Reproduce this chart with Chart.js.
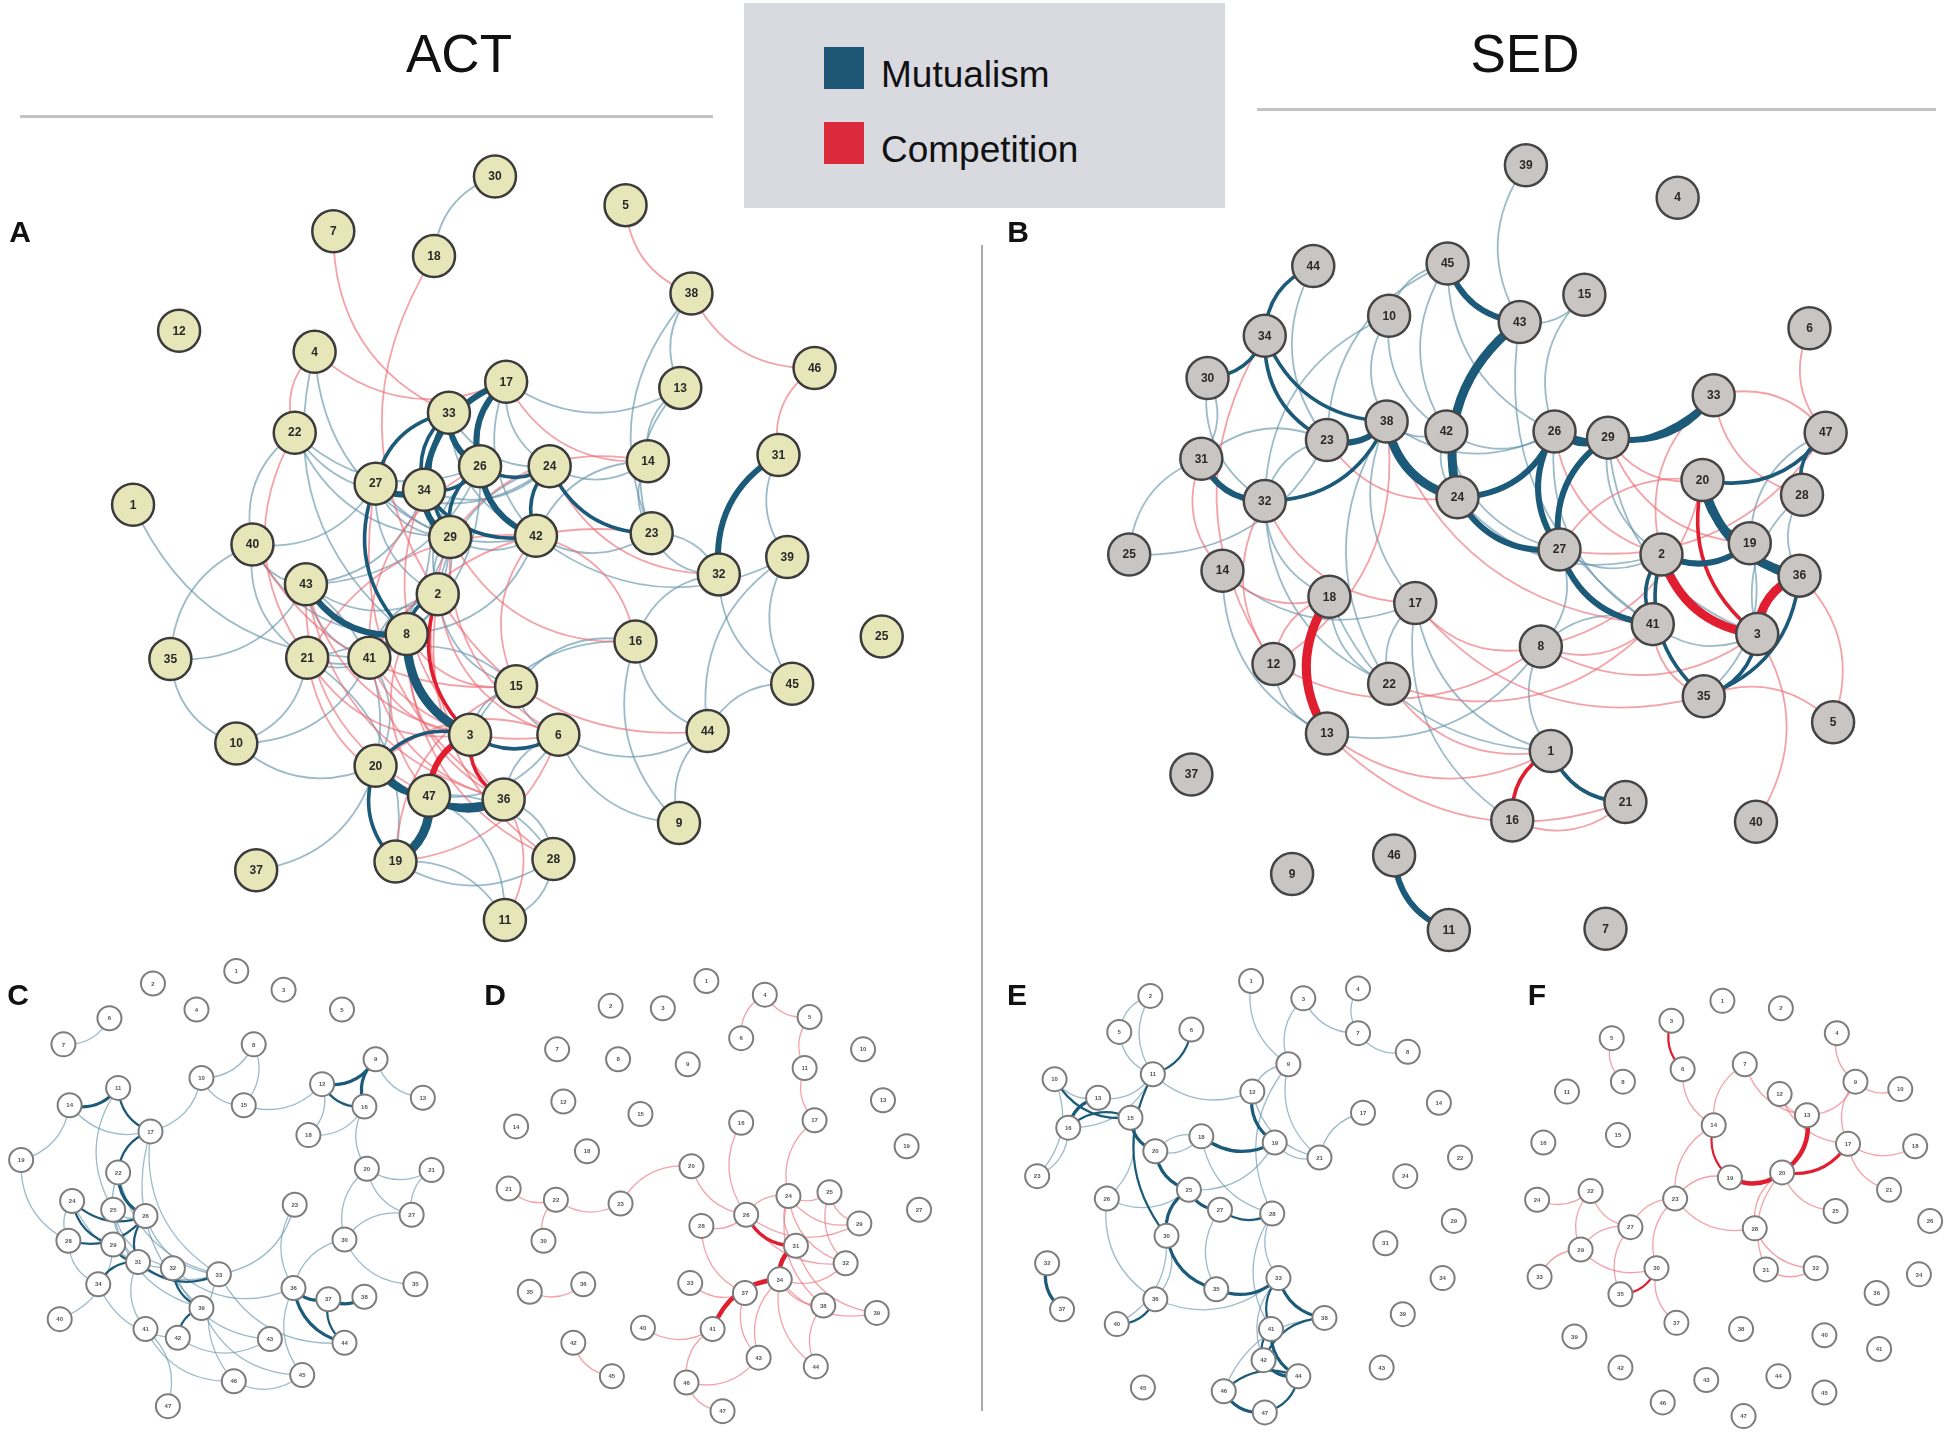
<!DOCTYPE html>
<html>
<head>
<meta charset="utf-8">
<script src="https://cdn.jsdelivr.net/npm/chart.js@4.4.1/dist/chart.umd.min.js"></script>
<style>
  body { margin: 0; background: #fff; font-family: "Liberation Sans", Arial, sans-serif; }
  #wrap { position: absolute; left: 0; top: 0; width: 1950px; height: 1436px; }
  .t { position: absolute; color: #111; white-space: nowrap; }
  .c { transform: translate(-50%, -50%); }
  .bar { position: absolute; background: #c3c3c3; }
</style>
</head>
<body>
<div id="wrap">
  <canvas id="net"></canvas>
</div>

<div class="bar" style="left:20px;top:115px;width:693px;height:3px"></div>
<div class="bar" style="left:1257px;top:108px;width:679px;height:3px"></div>
<div class="bar" style="left:981px;top:245px;width:2px;height:1166px;background:#a8a8a8"></div>
<div class="t c" style="left:459px;top:53px;font-size:53px">ACT</div>
<div class="t c" style="left:1525px;top:53px;font-size:53px">SED</div>

<div style="position:absolute;left:744px;top:3px;width:481px;height:205px;background:#d9dae0"></div>
<div style="position:absolute;left:824px;top:47px;width:40px;height:42px;background:#1d5675"></div>
<div style="position:absolute;left:824px;top:122px;width:40px;height:42px;background:#dc2a3d"></div>
<div class="t" style="left:881px;top:54px;font-size:37px">Mutualism</div>
<div class="t" style="left:881px;top:129px;font-size:37px">Competition</div>

<div class="t c" style="left:20px;top:232px;font-size:30px;font-weight:bold">A</div>
<div class="t c" style="left:1018px;top:232px;font-size:30px;font-weight:bold">B</div>
<div class="t c" style="left:18px;top:995px;font-size:30px;font-weight:bold">C</div>
<div class="t c" style="left:495px;top:995px;font-size:30px;font-weight:bold">D</div>
<div class="t c" style="left:1017px;top:995px;font-size:30px;font-weight:bold">E</div>
<div class="t c" style="left:1537px;top:995px;font-size:30px;font-weight:bold">F</div>

<script>
// ACT network (panel A): [species, x, y]
const actNodes = [
  [30,398,142],[5,503,165],[7,268,186],[18,349,206],[38,556,236],[12,144,266],[4,253,283],
  [46,655,296],[17,407,307],[13,547,312],[33,361,332],[22,237,348],[26,386,375],[24,442,375],
  [27,302,389],[34,341,394],[14,521,371],[31,626,366],[1,107,406],[29,362,432],[42,431,431],
  [23,524,429],[40,203,438],[39,633,448],[32,578,462],[43,246,470],[2,352,478],[8,327,510],
  [25,709,512],[35,137,530],[21,247,529],[41,297,529],[16,511,516],[15,415,552],[45,637,550],
  [3,378,591],[6,449,591],[44,569,588],[10,190,598],[20,302,616],[47,345,640],[36,405,643],
  [9,546,662],[19,318,693],[28,445,691],[37,206,700],[11,406,740]
];
// [from, to, strength]
const actMutualism = [
  [30,18,1],[1,41,1],[40,43,1],[40,21,1],[40,35,1],[40,8,1],[35,43,1],[35,10,1],[10,21,1],
  [10,20,1],[10,41,1],[37,20,1],[22,34,1],[22,29,1],[22,40,1],[22,26,1],[4,29,1],[4,8,1],
  [17,13,1],[38,13,1],[38,23,1],[13,23,1],[13,14,1],[14,23,1],[14,42,1],[31,39,1],[39,45,1],
  [39,44,1],[32,45,1],[32,23,1],[32,16,1],[16,9,1],[16,15,1],[16,44,1],[44,9,1],[45,44,1],
  [6,44,1],[6,9,1],[15,41,1],[15,6,1],[28,36,1],[28,47,1],[11,47,1],[11,19,1],[11,28,1],
  [21,41,1],[43,41,1],[33,24,1],[27,42,1],[27,24,1],[29,42,1],[29,2,1],[2,34,1],[27,29,1],
  [17,24,1],[43,26,1],[43,34,1],[40,27,1],[21,29,1],[41,34,1],[41,26,1],[8,29,1],[8,42,1],
  [3,47,1],[6,36,1],[15,3,1],[16,3,1],[42,23,1],[24,14,1],[2,15,1],[42,39,1],[23,32,1],
  [2,41,1],[20,41,1],[19,28,1],[47,6,1],[20,43,1],[19,21,1],[17,42,1],[33,42,1],[26,2,1],
  [24,2,1],[27,2,1],[34,24,1],[21,8,1],[43,2,1],
  [31,32,3],[17,26,3],[17,34,3],[33,26,3],[33,29,2],[26,42,3],[26,24,2],[27,34,3],[27,8,2],
  [34,29,3],[43,8,3],[8,3,4],[2,8,2],[3,6,2],[20,36,3],[47,36,3],[19,47,4],[20,19,2],
  [20,47,2],[24,23,2],[24,42,2],[34,26,2],[34,42,2],[33,27,2],[26,29,2],[33,34,2],[3,20,2]
];
const actCompetition = [
  [7,33,1],[18,2,1],[5,38,1],[38,46,1],[46,31,1],[4,17,1],[4,22,1],[22,21,1],[17,14,1],
  [24,32,1],[8,28,1],[41,36,1],[21,3,1],[43,36,1],[6,20,1],[15,19,1],[2,28,1],[29,6,1],
  [42,15,1],[11,36,1],[16,42,1],[23,41,1],[29,16,1],[34,3,1],[21,47,1],[43,3,1],[27,36,1],
  [41,6,1],[8,36,1],[2,44,1],[26,41,1],[42,21,1],[40,15,1],[14,29,1],[19,6,1],[8,47,1],
  [41,3,1],[43,47,1],[2,6,1],[29,36,1],[8,15,1],
  [2,3,2],[3,47,3],[3,36,2]
];

// SED network (panel B)
const sedNodes = [
  [39,1227,133],[4,1349,159],[44,1056,214],[45,1164,212],[15,1274,237],[10,1117,254],
  [43,1222,259],[6,1455,264],[34,1017,270],[30,971,304],[33,1378,318],[38,1115,339],
  [42,1163,347],[26,1250,347],[29,1293,352],[23,1067,354],[47,1468,348],[31,966,369],
  [20,1369,386],[24,1172,400],[32,1017,403],[28,1449,398],[19,1407,437],[25,908,446],
  [27,1254,442],[2,1336,446],[36,1447,463],[14,983,459],[18,1069,480],[17,1138,485],
  [41,1329,502],[3,1413,510],[8,1239,520],[12,1024,534],[22,1117,550],[35,1370,560],
  [13,1067,590],[5,1474,581],[1,1247,604],[37,958,623],[21,1307,645],[16,1216,660],
  [40,1412,661],[46,1121,688],[9,1039,703],[11,1165,748],[7,1291,747]
];
const sedMutualism = [
  [39,43,1],[45,10,1],[45,23,1],[45,26,1],[45,42,1],[10,38,1],[10,42,1],[10,32,1],[43,15,1],
  [15,26,1],[43,41,1],[42,24,1],[42,26,1],[38,17,1],[38,22,1],[38,26,1],[23,32,1],[31,30,1],
  [31,25,1],[25,23,1],[14,17,1],[14,13,1],[32,18,1],[32,22,1],[17,22,1],[17,16,1],[18,1,1],
  [8,27,1],[8,1,1],[29,2,1],[29,3,1],[47,19,1],[28,3,1],[44,23,1],[30,32,1],[24,2,1],
  [26,41,1],[42,27,1],[12,13,1],[18,22,1],[13,8,1],[41,8,1],[35,19,1],[28,36,1],[41,3,1],
  [23,31,1],[38,42,1],[27,2,1],[17,1,1],
  [44,34,2],[34,38,2],[34,23,2],[30,34,2],[31,32,3],[32,38,2],[23,38,3],[38,24,4],[45,43,3],
  [43,24,4],[24,26,3],[24,27,3],[26,29,3],[26,27,3],[29,27,3],[29,33,3],[26,33,2],[27,41,3],
  [2,19,3],[2,41,2],[2,35,2],[20,19,3],[20,36,4],[20,47,2],[19,36,3],[47,28,2],[35,36,2],
  [35,3,2],[1,21,2],[46,11,3]
];
const sedCompetition = [
  [6,47,1],[47,33,1],[33,28,1],[33,2,1],[5,36,1],[40,3,1],[5,35,1],[8,41,1],[8,20,1],
  [12,8,1],[17,8,1],[22,1,1],[32,12,1],[34,12,1],[31,14,1],[23,24,1],[38,41,1],[29,20,1],
  [26,2,1],[27,47,1],[18,12,1],[13,1,1],[22,41,1],[16,21,1],[14,18,1],[17,35,1],[32,17,1],
  [20,27,1],[29,19,1],[12,38,1],[13,21,1],[8,3,1],[41,35,1],
  [18,13,4],[2,3,4],[36,3,4],[20,3,2],[1,16,2]
];

// Panels C-F: small layouts, nodes [x, y], edges by node index
const cNodes = [
  [190,781],[123,791],[228,796],[158,812],[275,812],[88,819],[51,840],[204,840],[302,852],
  [162,867],[95,875],[259,872],[340,883],[56,889],[196,889],[293,890],[121,910],[248,913],
  [17,933],[295,940],[347,941],[95,943],[237,969],[58,966],[91,973],[117,978],[331,977],
  [55,998],[91,1001],[277,997],[111,1015],[139,1020],[176,1025],[79,1033],[334,1033],
  [236,1036],[264,1045],[293,1043],[162,1052],[48,1061],[117,1069],[143,1076],[217,1077],
  [277,1080],[243,1106],[188,1111],[135,1131]
];
const cEdges = [
  [6,5,1],[13,16,1],[18,13,1],[18,27,1],[16,9,1],[9,7,1],[9,14,1],[14,7,1],[14,11,1],
  [8,12,1],[17,15,1],[17,11,1],[15,19,1],[19,20,1],[19,26,1],[20,26,1],[19,29,1],[26,29,1],
  [22,35,1],[29,35,1],[29,34,1],[35,44,1],[39,28,1],[41,42,1],[45,44,1],[40,45,1],[46,40,1],
  [32,22,1],[32,43,1],[38,44,1],[24,31,1],[23,31,1],[10,24,1],[21,30,1],[24,38,1],[27,33,1],
  [33,41,1],[28,32,1],[16,32,1],[25,32,1],[30,40,1],[31,42,1],[24,25,1],[23,27,1],[21,32,1],
  [31,35,1],[16,38,1],[32,45,1],
  [13,10,3],[10,16,2],[16,21,2],[21,25,3],[11,8,3],[11,15,2],[8,15,3],[35,36,3],[36,37,3],
  [36,43,2],[35,43,3],[23,25,2],[23,28,2],[27,25,2],[28,30,2],[30,33,2],[30,32,2],[31,38,2],
  [38,41,2],[25,30,2]
];
const dNodes = [
  [568,789],[491,809],[533,811],[615,800],[651,818],[596,835],[448,844],[497,852],[553,856],
  [694,844],[647,859],[453,886],[710,885],[415,906],[515,896],[596,903],[655,901],[472,926],
  [729,922],[556,938],[409,956],[447,965],[499,968],[634,962],[667,959],[600,977],[739,973],
  [564,986],[691,984],[437,998],[640,1002],[680,1016],[555,1032],[627,1029],[426,1039],
  [469,1033],[599,1040],[662,1050],[705,1056],[517,1068],[573,1069],[461,1080],[610,1092],
  [656,1099],[492,1107],[552,1112],[581,1135]
];
const dEdges = [
  [3,4,1],[3,5,1],[4,10,1],[10,16,1],[16,23,1],[15,25,1],[19,22,1],[19,25,1],[20,21,1],
  [21,29,1],[21,22,1],[34,35,1],[41,44,1],[23,25,1],[23,24,1],[23,28,1],[23,31,1],[23,30,1],
  [24,28,1],[24,31,1],[33,37,1],[33,38,1],[33,42,1],[33,36,1],[33,31,1],[33,43,1],[27,25,1],
  [27,36,1],[32,36,1],[39,40,1],[40,45,1],[45,46,1],[45,42,1],[37,43,1],[25,31,1],[23,37,1],
  [25,28,1],[30,38,1],[36,42,1],
  [25,30,3],[30,33,4],[33,40,4]
];
const eNodes = [
  [1006,789],[925,801],[1048,803],[1092,795],[900,830],[958,828],[1092,831],[1132,846],
  [1036,856],[848,868],[927,864],[1007,878],[883,883],[1157,887],[909,899],[859,907],
  [1096,895],[966,914],[1025,919],[929,926],[1061,931],[1174,931],[834,946],[1130,946],
  [956,957],[890,964],[981,973],[1023,976],[1169,982],[938,994],[1114,1000],[842,1016],
  [1028,1028],[1160,1028],[978,1037],[929,1045],[854,1053],[1065,1060],[1128,1057],
  [898,1065],[1022,1069],[1016,1094],[1111,1100],[1044,1107],[919,1116],[984,1119],[1017,1136]
];
const eEdges = [
  [1,4,1],[1,10,1],[4,10,1],[0,8,1],[2,6,1],[3,6,1],[6,7,1],[2,8,1],[8,11,1],[8,20,1],
  [8,27,1],[16,20,1],[18,20,1],[22,15,1],[25,14,1],[25,35,1],[39,29,1],[35,32,1],[17,27,1],
  [27,40,1],[26,34,1],[17,19,1],[10,11,1],[9,12,1],[12,10,1],[15,10,1],[22,9,1],[25,24,1],
  [19,17,1],[35,29,1],[32,41,1],[37,45,1],[27,32,1],[11,20,1],[24,18,1],
  [31,36,3],[9,14,2],[12,15,3],[14,15,2],[10,5,2],[10,29,2],[14,19,3],[19,24,3],[24,26,3],
  [24,29,3],[29,34,3],[34,32,3],[17,18,3],[11,18,3],[26,27,2],[32,37,3],[32,40,2],[40,41,2],
  [40,43,3],[37,41,2],[41,43,3],[43,45,2],[45,46,3],[46,43,2],[39,35,2]
];
const fNodes = [
  [1385,805],[1432,811],[1344,821],[1477,831],[1296,835],[1353,860],[1403,856],[1305,870],
  [1492,870],[1528,876],[1260,878],[1431,880],[1453,897],[1378,905],[1301,913],[1241,919],
  [1486,920],[1540,922],[1391,947],[1433,943],[1519,957],[1279,958],[1347,964],[1236,965],
  [1476,974],[1552,982],[1311,987],[1411,988],[1271,1005],[1332,1020],[1420,1021],[1460,1020],
  [1238,1027],[1543,1025],[1303,1041],[1509,1040],[1348,1064],[1400,1069],[1266,1075],
  [1467,1074],[1511,1085],[1303,1100],[1372,1110],[1430,1107],[1467,1120],[1337,1128],[1402,1139]
];
const fEdges = [
  [4,7,1],[5,13,1],[6,13,1],[6,12,1],[12,8,1],[3,8,1],[8,9,1],[8,16,1],[11,16,1],[16,17,1],
  [16,20,1],[19,24,1],[19,27,1],[19,30,1],[27,31,1],[30,31,1],[18,22,1],[22,27,1],[22,26,1],
  [22,29,1],[21,26,1],[23,21,1],[21,28,1],[26,28,1],[28,32,1],[26,34,1],[29,36,1],[28,29,1],
  [13,22,1],[11,12,1],
  [2,5,2],[13,18,2],[18,19,4],[19,12,4],[19,16,3],[34,29,2]
];

const MUT_LIGHT = 'rgba(95,145,168,0.62)', MUT_DARK = '#1c5a7a';
const COMP_LIGHT = 'rgba(236,105,115,0.62)', COMP_DARK = '#e01e30';

function byId(list) { return list.map(n => ({ x: n[1], y: n[2], id: n[0] })); }
function byIndex(list) { return list.map((n, i) => ({ x: n[0], y: n[1], id: i + 1 })); }

const panels = [
  { pts: byId(actNodes), keyed: true, sets: [[actMutualism, 'm'], [actCompetition, 'c']],
    fill: '#e7e6b8', line: '#3b3b3b', r: 21, font: 'bold 12px "Liberation Sans", Arial', big: true },
  { pts: byId(sedNodes), keyed: true, sets: [[sedMutualism, 'm'], [sedCompetition, 'c']],
    fill: '#c9c5c3', line: '#454545', r: 21, font: 'bold 12px "Liberation Sans", Arial', big: true },
  { pts: byIndex(cNodes), keyed: false, sets: [[cEdges, 'm']], fill: '#ffffff', line: '#7d7d7d', r: 12, font: 'bold 6px Arial', big: false },
  { pts: byIndex(dNodes), keyed: false, sets: [[dEdges, 'c']], fill: '#ffffff', line: '#7d7d7d', r: 12, font: 'bold 6px Arial', big: false },
  { pts: byIndex(eNodes), keyed: false, sets: [[eEdges, 'm']], fill: '#ffffff', line: '#7d7d7d', r: 12, font: 'bold 6px Arial', big: false },
  { pts: byIndex(fNodes), keyed: false, sets: [[fEdges, 'c']], fill: '#ffffff', line: '#7d7d7d', r: 12, font: 'bold 6px Arial', big: false }
];

// curved edges drawn under the nodes, positioned through the chart scales
const edgePlugin = {
  id: 'edges',
  beforeDatasetsDraw(chart) {
    const ctx = chart.ctx, sx = chart.scales.x, sy = chart.scales.y;
    const widths = { true: [0, 1.8, 3.6, 6, 9], false: [0, 1.3, 2.2, 3.2, 4.5] };
    panels.forEach(p => {
      const find = p.keyed ? (id => p.pts.find(n => n.id === id)) : (i => p.pts[i]);
      const all = [];
      p.sets.forEach(([list, kind]) => list.forEach(e => all.push({ a: find(e[0]), b: find(e[1]), w: e[2], kind })));
      all.sort((u, v) => u.w - v.w);
      all.forEach(e => {
        if (!e.a || !e.b) return;
        const x1 = sx.getPixelForValue(e.a.x), y1 = sy.getPixelForValue(e.a.y);
        const x2 = sx.getPixelForValue(e.b.x), y2 = sy.getPixelForValue(e.b.y);
        const dx = x2 - x1, dy = y2 - y1, k = 0.32;
        const cx = (x1 + x2) / 2 - dy * k, cy = (y1 + y2) / 2 + dx * k;
        ctx.save();
        ctx.beginPath();
        ctx.moveTo(x1, y1);
        ctx.quadraticCurveTo(cx, cy, x2, y2);
        if (e.kind === 'm') ctx.strokeStyle = e.w > 1 ? MUT_DARK : MUT_LIGHT;
        else ctx.strokeStyle = e.w > 1 ? COMP_DARK : COMP_LIGHT;
        ctx.lineWidth = widths[p.big][e.w];
        ctx.lineCap = 'round';
        ctx.stroke();
        ctx.restore();
      });
    });
  },
  afterDatasetsDraw(chart) {
    const ctx = chart.ctx, sx = chart.scales.x, sy = chart.scales.y;
    ctx.save();
    ctx.textAlign = 'center';
    ctx.textBaseline = 'middle';
    panels.forEach(p => {
      ctx.font = p.font;
      ctx.fillStyle = p.big ? '#2a2a2a' : '#555';
      p.pts.forEach(n => ctx.fillText(String(n.id), sx.getPixelForValue(n.x), sy.getPixelForValue(n.y) + 0.5));
    });
    ctx.restore();
  }
};

new Chart(document.getElementById('net'), {
  type: 'scatter',
  data: {
    datasets: panels.map(p => ({
      data: p.pts,
      pointRadius: p.r,
      pointHoverRadius: p.r,
      backgroundColor: p.fill,
      borderColor: p.line,
      borderWidth: p.big ? 2.5 : 2,
      clip: false
    }))
  },
  options: {
    responsive: true,
    maintainAspectRatio: false,
    animation: false,
    events: [],
    layout: { padding: 0, autoPadding: false },
    plugins: { legend: { display: false }, tooltip: { enabled: false } },
    scales: {
      x: { type: 'linear', display: false, min: 0, max: 1568 },
      y: { type: 'linear', display: false, min: 0, max: 1155, reverse: true }
    }
  },
  plugins: [edgePlugin]
});
</script>
</body>
</html>
